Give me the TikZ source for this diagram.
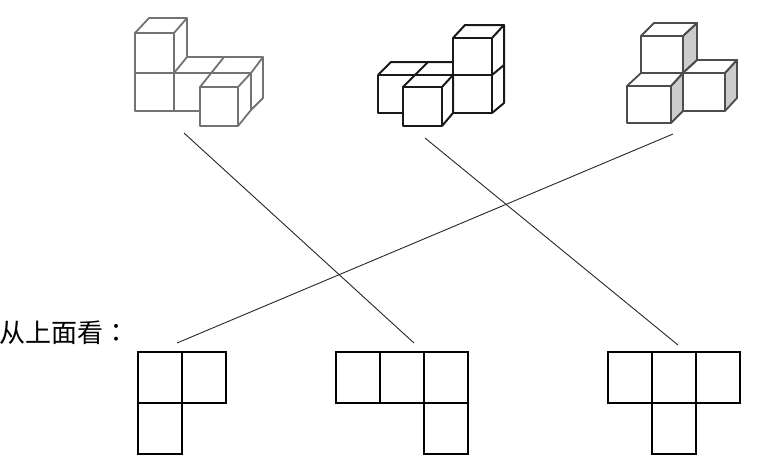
\documentclass[tikz,border=0pt]{standalone}
\usepackage{fontspec}
\usepackage{xcolor}
\usetikzlibrary{positioning}
\newfontfamily\cjkfont{Noto Sans CJK TC}
\tikzset{cell/.style = {draw, line width = 2pt, minimum width = 44pt, minimum height = 51pt, inner sep = 0, outer sep = 0}}
\tikzset{link/.style = {line width = 0.9pt, draw = black!85}}
\tikzset{paleblock/.style = {line width = 1.8pt, draw = black!55, line join = round}}
\tikzset{darkblock/.style = {line width = 2pt, draw = black!90, line join = round}}
\tikzset{shadeblock/.style = {line width = 1.8pt, draw = black!70, line join = round}}
\tikzset{shadeside/.style = {shadeblock, fill = black!20}}
\begin{document}
\begin{tikzpicture}[x=1pt,y=-1pt]
            \useasboundingbox (0,0) rectangle (758,467);
            % first solid
            \draw [paleblock] (135,33)--(174,33)--(174,111)--(135,111)--cycle;
            \draw [paleblock] (135,73)--(174,73)--(251,73);
            \draw [paleblock] (135,33)--(149,18)--(187,18)--(174,33);
            \draw [paleblock] (187,18)--(187,57)--(174,73);
            \draw [paleblock] (187,57)--(263,57)--(251,73);
            \draw [paleblock] (224,57)--(200,87);
            \draw [paleblock] (174,111)--(200,111);
            \draw [paleblock] (200,87)--(238,87)--(238,126)--(200,126)--cycle;
            \draw [paleblock] (238,87)--(251,73)--(251,110)--(238,126);
            \draw [paleblock] (263,57)--(263,98)--(251,110);
            % second solid
            \draw [darkblock] (378,75)--(378,113)--(403,113);
            \draw [darkblock] (378,75)--(391,62)--(453,62);
            \draw [darkblock] (378,75)--(492,75);
            \draw [darkblock] (428,62)--(403,87);
            \draw [darkblock] (403,87)--(442,87)--(442,126)--(403,126)--cycle;
            \draw [darkblock] (442,87)--(453,75)--(453,113)--(442,126);
            \draw [darkblock] (453,38)--(492,38)--(492,113)--(453,113)--cycle;
            \draw [darkblock] (453,38)--(465,25)--(504,25)--(492,38);
            \draw [darkblock] (504,25)--(504,103)--(492,113);
            \draw [darkblock] (492,75)--(504,65);
            % third solid
            \draw [shadeside] (683,36)--(697,23)--(697,60)--(683,73)--cycle;
            \draw [shadeblock] (641,36)--(683,36)--(683,73)--(641,73)--cycle;
            \draw [shadeblock] (641,36)--(654,23)--(697,23)--(683,36);
            \draw [shadeside] (725,73)--(737,60)--(737,98)--(725,111)--cycle;
            \draw [shadeblock] (683,73)--(725,73)--(725,111)--(683,111)--cycle;
            \draw [shadeblock] (683,73)--(697,60)--(737,60)--(725,73);
            \draw [shadeside] (671,86)--(683,73)--(683,111)--(671,123)--cycle;
            \draw [shadeblock] (627,86)--(671,86)--(671,123)--(627,123)--cycle;
            \draw [shadeblock] (627,86)--(641,73)--(683,73)--(671,86);
            % plans
            \node [cell] (a1) at (160,377.5) {};
            \node [cell, right=0pt of a1] (a2) {};
            \node [cell, below=0pt of a1] (a3) {};
            \node [cell] (b1) at (358,377.5) {};
            \node [cell, right=0pt of b1] (b2) {};
            \node [cell, right=0pt of b2] (b3) {};
            \node [cell, below=0pt of b3] (b4) {};
            \node [cell] (c1) at (630,377.5) {};
            \node [cell, right=0pt of c1] (c2) {};
            \node [cell, right=0pt of c2] (c3) {};
            \node [cell, below=0pt of c2] (c4) {};
            \node [inner sep = 0, anchor = west, font = \cjkfont\fontsize{26}{26}\selectfont] (fromtop) at (-1,333) {从上面看：};
            % links
            \coordinate (solidA) at (184,133);
            \coordinate (solidB) at (425,138);
            \coordinate (solidC) at (673,134);
            \coordinate (planA) at (177,343);
            \coordinate (planB) at (414,343);
            \coordinate (planC) at (678,345);
            \draw [link] (solidA)--(planB);
            \draw [link] (solidB)--(planC);
            \draw [link] (solidC)--(planA);
        \end{tikzpicture}
\end{document}
